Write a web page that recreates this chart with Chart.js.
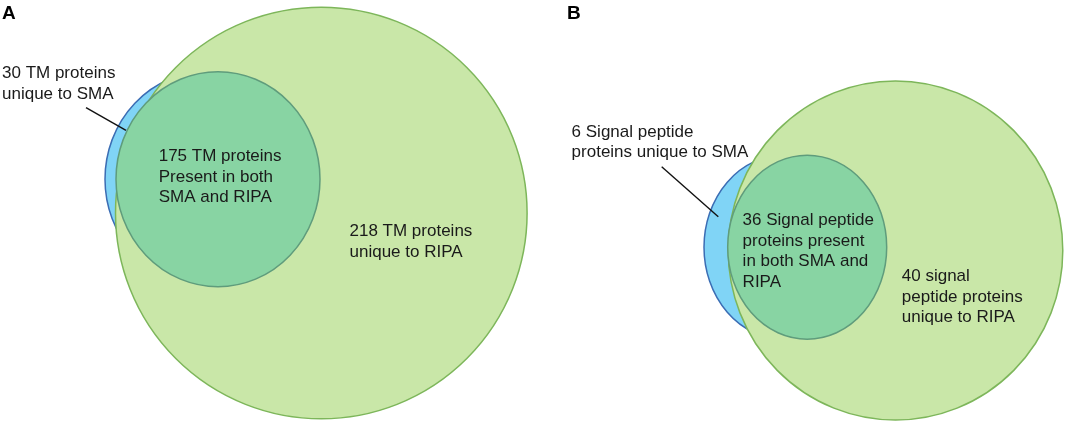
<!DOCTYPE html>
<html>
<head>
<meta charset="utf-8">
<script src="https://cdn.jsdelivr.net/npm/chart.js@4/dist/chart.umd.min.js"></script>
<style>
html,body{margin:0;padding:0;background:#fff;}
#wrap{width:1065px;height:422px;}
</style>
</head>
<body>
<div id="wrap"><canvas id="c" width="1065" height="422"></canvas></div>
<script>
// ---- data ----
const panels = ['A', 'B'];
const setNames = ['SMA only', 'RIPA only', 'Both'];
const countsA = [30, 218, 175];          // TM proteins
const countsB = [6, 40, 36];             // Signal peptide proteins

// label text (built from counts)
const labelsA = [
  [countsA[0] + ' TM proteins', 'unique to SMA'],
  [countsA[1] + ' TM proteins', 'unique to RIPA'],
  [countsA[2] + ' TM proteins', 'Present in both', 'SMA and RIPA']
];
const labelsB = [
  [countsB[0] + ' Signal peptide', 'proteins unique to SMA'],
  [countsB[1] + ' signal', 'peptide proteins', 'unique to RIPA'],
  [countsB[2] + ' Signal peptide', 'proteins present', 'in both SMA and', 'RIPA']
];

// ---- diagram geometry (diagram units) ----
const smaA  = {x: 207.0, y: 179.2, rx: 102.0, ry: 107.5};
const ripaA = {x: 321.3, y: 213.0, rx: 205.8, ry: 205.8};
const bothA = {x: 218.0, y: 179.2, rx: 102.0, ry: 107.5};
const smaB  = {x: 783.5, y: 247.2, rx: 79.5, ry: 92.0};
const ripaB = {x: 895.5, y: 250.5, rx: 167.3, ry: 169.5};
const bothB = {x: 807.2, y: 247.2, rx: 79.5, ry: 92.0};

const leaderA = [{x: 86.0, y: 107.7}, {x: 126.0, y: 130.3}];
const leaderB = [{x: 661.7, y: 166.7}, {x: 718.3, y: 216.7}];

const labelPosA = [[2.0, 78.3], [349.5, 236.3], [158.7, 161.0]];
const labelPosB = [[571.6, 136.7], [901.8, 281.0], [742.6, 225.0]];
const letterPos = [[2.0, 18.5], [567.0, 18.5]];

// ---- styles ----
const fills   = ['#80d4f6', '#c9e7a8', '#88d4a3'];
const strokes = ['#3b6db4', '#7db65a', '#5f9c7c'];

function ell(e){ return {x: e.x, y: e.y, r: 0, rx: e.rx, ry: e.ry}; }

const ellipsePlugin = {
  id: 'ellipses',
  beforeDatasetDraw(chart, args) {
    const ds = chart.data.datasets[args.index];
    if (!ds.isEllipse) return;
    const ctx = chart.ctx, xs = chart.scales.x, ys = chart.scales.y;
    args.meta.data.forEach((el, i) => {
      const d = ds.data[i];
      const rx = Math.abs(xs.getPixelForValue(d.x + d.rx) - el.x);
      const ry = Math.abs(ys.getPixelForValue(d.y + d.ry) - el.y);
      ctx.save();
      ctx.beginPath();
      ctx.ellipse(el.x, el.y, rx, ry, 0, 0, Math.PI * 2);
      ctx.fillStyle = ds.backgroundColor;
      ctx.fill();
      ctx.lineWidth = ds.borderWidth;
      ctx.strokeStyle = ds.borderColor;
      ctx.stroke();
      ctx.restore();
    });
    return false;
  }
};

const textPlugin = {
  id: 'venntext',
  afterDatasetsDraw(chart) {
    const ctx = chart.ctx, xs = chart.scales.x, ys = chart.scales.y;
    const lh = 20.6;
    ctx.save();
    ctx.fillStyle = '#1a1a1a';
    ctx.textAlign = 'left';
    ctx.textBaseline = 'alphabetic';
    ctx.font = '17px "Liberation Sans", Arial, sans-serif';
    [[labelsA, labelPosA], [labelsB, labelPosB]].forEach(([labels, pos]) => {
      labels.forEach((lines, i) => {
        const px = xs.getPixelForValue(pos[i][0]);
        lines.forEach((t, j) => {
          const py = ys.getPixelForValue(pos[i][1] + j * lh);
          ctx.fillText(t, px, py);
        });
      });
    });
    ctx.font = 'bold 19px "Liberation Sans", Arial, sans-serif';
    ctx.fillStyle = '#000';
    panels.forEach((p, i) => {
      ctx.fillText(p, xs.getPixelForValue(letterPos[i][0]), ys.getPixelForValue(letterPos[i][1]));
    });
    ctx.restore();
  }
};

function ellipseDs(label, e, k) {
  return {
    type: 'bubble', label: label, isEllipse: true, data: [ell(e)],
    backgroundColor: fills[k], borderColor: strokes[k], borderWidth: 1.5,
    order: [3, 2, 1][k]
  };
}
function leaderDs(label, pts) {
  return {
    type: 'line', label: label, data: pts, borderColor: '#111', borderWidth: 1.4,
    pointRadius: 0, fill: false, order: 0
  };
}

new Chart(document.getElementById('c'), {
  type: 'bubble',
  data: {
    datasets: [
      ellipseDs('A ' + setNames[0], smaA, 0),
      ellipseDs('A ' + setNames[1], ripaA, 1),
      ellipseDs('A ' + setNames[2], bothA, 2),
      ellipseDs('B ' + setNames[0], smaB, 0),
      ellipseDs('B ' + setNames[1], ripaB, 1),
      ellipseDs('B ' + setNames[2], bothB, 2),
      leaderDs('A leader', leaderA),
      leaderDs('B leader', leaderB)
    ]
  },
  options: {
    responsive: false,
    animation: false,
    events: [],
    layout: {padding: 0},
    scales: {
      x: {type: 'linear', min: 0, max: 1065, display: false},
      y: {type: 'linear', min: 0, max: 422, reverse: true, display: false}
    },
    plugins: {legend: {display: false}, tooltip: {enabled: false}, title: {display: false}}
  },
  plugins: [ellipsePlugin, textPlugin]
});
</script>
</body>
</html>
